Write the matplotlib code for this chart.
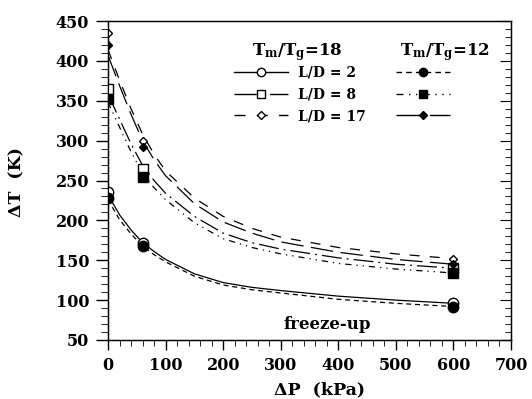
import matplotlib
matplotlib.use("Agg")
import matplotlib.pyplot as plt
from matplotlib.lines import Line2D
from matplotlib.ticker import MultipleLocator

plt.rcParams['font.family'] = 'DejaVu Serif'
plt.rcParams['font.weight'] = 'bold'
plt.rcParams['mathtext.fontset'] = 'custom'
plt.rcParams['mathtext.rm'] = 'DejaVu Serif:bold'
plt.rcParams['mathtext.it'] = 'DejaVu Serif:bold'
plt.rcParams['mathtext.bf'] = 'DejaVu Serif:bold'

# measured points
dp_pts = [0, 60, 600]
t18_ld2_pts = [235, 172, 97]
t18_ld8_pts = [365, 265, 140]
t18_ld17_pts = [435, 300, 152]
t12_ld2_pts = [228, 168, 91]
t12_ld8_pts = [352, 255, 134]
t12_ld17_pts = [420, 292, 145]

# fitted curves
dp_curve = [0, 20, 40, 60, 80, 100, 150, 200, 250, 300, 400, 500, 600]
t18_ld2_curve = [232, 207, 188, 172, 161, 151, 133, 122, 116, 112, 105, 100, 96]
t12_ld2_curve = [226, 201, 183, 168, 157, 148, 130, 119, 113, 109, 101, 96, 92]
t18_ld17_curve = [414, 376, 340, 308, 283, 262, 228, 205, 190, 179, 166, 158, 152]
t12_ld17_curve = [407, 369, 333, 300, 276, 256, 221, 198, 184, 173, 160, 151, 145]
t18_ld8_curve = [358, 327, 296, 269, 250, 234, 205, 184, 172, 164, 153, 145, 140]
t12_ld8_curve = [348, 317, 286, 259, 241, 226, 197, 177, 166, 158, 146, 139, 134]

labels = ['L/D = 2', 'L/D = 8', 'L/D = 17']

fig = plt.figure(figsize=(5.32, 3.99), dpi=100)
ax = fig.add_axes([108/532, 1-340/399, 403/532, 319/399])

series = [
    (t18_ld2_curve, t18_ld2_pts, '-', 'o', 'white', 7.5),
    (t18_ld8_curve, t18_ld8_pts, (0, (16, 4, 1.5, 4)), 's', 'white', 6.5),
    (t18_ld17_curve, t18_ld17_pts, (0, (8, 8)), 'D', 'white', 4.5),
    (t12_ld2_curve, t12_ld2_pts, (0, (4, 3)), 'o', 'black', 7.5),
    (t12_ld8_curve, t12_ld8_pts, (0, (5, 4, 1, 4, 1, 4)), 's', 'black', 6.5),
    (t12_ld17_curve, t12_ld17_pts, (0, (18, 6)), 'D', 'black', 4.5),
]

handles = []
for curve, pts, ls, mk, fc, ms in series:
    ax.plot(dp_curve, curve, color='black', lw=0.9, linestyle=ls, zorder=2)
    ax.plot(dp_pts, pts, linestyle='none', marker=mk, mfc=fc, mec='black',
            mew=1.0, ms=ms, zorder=3 if fc == 'white' else 4)
    handles.append(Line2D([], [], color='black', lw=1.0, linestyle=ls,
                          marker=mk, mfc=fc, mec='black', mew=1.0, ms=ms))

ax.set_xlim(0, 700)
ax.set_ylim(50, 450)
ax.xaxis.set_major_locator(MultipleLocator(100))
ax.xaxis.set_minor_locator(MultipleLocator(20))
ax.yaxis.set_major_locator(MultipleLocator(50))
ax.yaxis.set_minor_locator(MultipleLocator(10))
ax.tick_params(axis='both', which='major', labelsize=11.5, width=1.0)
ax.tick_params(axis='y', which='major', length=9, direction='out', pad=4.5)
ax.tick_params(axis='y', which='minor', length=5, direction='out')
ax.tick_params(axis='x', which='major', length=7, direction='out', pad=5)
ax.tick_params(axis='x', which='minor', length=4, direction='out')
for t in ax.get_xticklabels() + ax.get_yticklabels():
    t.set_fontweight('bold')
for s in ax.spines.values():
    s.set_linewidth(1.0)

# right axis ticks point inward
ax2 = ax.twinx()
ax2.set_ylim(50, 450)
ax2.yaxis.set_major_locator(MultipleLocator(50))
ax2.yaxis.set_minor_locator(MultipleLocator(10))
ax2.tick_params(axis='y', which='major', length=8, direction='in', labelright=False)
ax2.tick_params(axis='y', which='minor', length=4, direction='in')

leg = ax.legend(handles, labels + ['', '', ''], ncol=2, frameon=False,
                loc='upper left', bbox_to_anchor=((234-108)/403, (340-66)/319),
                borderpad=0, borderaxespad=0, fontsize=10, handlelength=3.9,
                handletextpad=0.7, columnspacing=2.2, labelspacing=0.55,
                markerscale=0.8)
for t in leg.get_texts():
    t.set_fontweight('bold')

ax.text((252-108)/403, (340-55)/319, r'T$_\mathrm{m}$/T$_\mathrm{g}$=18',
        transform=ax.transAxes, fontsize=12, fontweight='bold', ha='left', va='baseline')
ax.text((400-108)/403, (340-55)/319, r'T$_\mathrm{m}$/T$_\mathrm{g}$=12',
        transform=ax.transAxes, fontsize=12, fontweight='bold', ha='left', va='baseline')

ax.text(0.545, 0.035, 'freeze-up', transform=ax.transAxes, fontsize=12,
        fontweight='bold', ha='center', va='baseline')

fig.text(17/532, 1-182/399, 'ΔT  (K)', rotation=90, fontsize=12.5,
         fontweight='bold', ha='center', va='center')
fig.text(320/532, 1-390/399, 'ΔP  (kPa)', fontsize=12.5,
         fontweight='bold', ha='center', va='center')

fig.savefig('out.png', dpi=100)
